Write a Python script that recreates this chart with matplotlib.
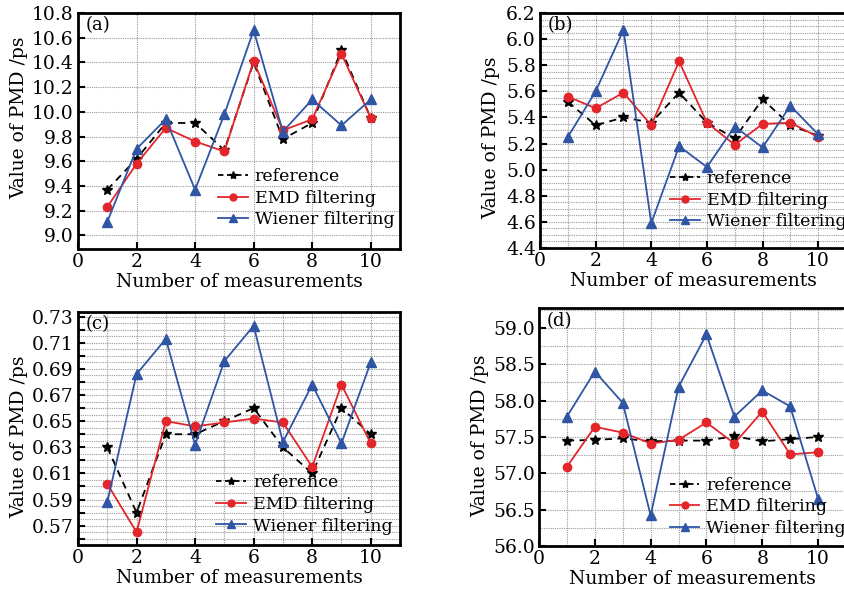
import matplotlib
matplotlib.use("Agg")
import matplotlib.pyplot as plt
from matplotlib.ticker import MultipleLocator
from matplotlib.lines import Line2D
import numpy as np

plt.rcParams['font.family'] = ['DejaVu Serif']
plt.rcParams['mathtext.fontset'] = 'dejavuserif'

x = [1, 2, 3, 4, 5, 6, 7, 8, 9, 10]

ref_a = [9.37, 9.62, 9.91, 9.91, 9.69, 10.40, 9.78, 9.91, 10.50, 9.95]
emd_a = [9.23, 9.58, 9.87, 9.76, 9.68, 10.41, 9.85, 9.94, 10.47, 9.95]
wie_a = [9.11, 9.70, 9.94, 9.37, 9.98, 10.66, 9.84, 10.10, 9.89, 10.10]

ref_b = [5.52, 5.34, 5.40, 5.36, 5.59, 5.36, 5.24, 5.54, 5.34, 5.26]
emd_b = [5.56, 5.47, 5.59, 5.34, 5.83, 5.36, 5.19, 5.35, 5.36, 5.25]
wie_b = [5.25, 5.60, 6.07, 4.59, 5.18, 5.02, 5.33, 5.17, 5.49, 5.27]

ref_c = [0.630, 0.580, 0.640, 0.640, 0.650, 0.660, 0.630, 0.610, 0.660, 0.640]
emd_c = [0.602, 0.565, 0.650, 0.646, 0.649, 0.652, 0.649, 0.615, 0.678, 0.633]
wie_c = [0.588, 0.686, 0.713, 0.632, 0.696, 0.723, 0.634, 0.678, 0.633, 0.695]

ref_d = [57.45, 57.46, 57.48, 57.44, 57.45, 57.45, 57.51, 57.44, 57.47, 57.50]
emd_d = [57.09, 57.64, 57.56, 57.41, 57.46, 57.70, 57.41, 57.85, 57.26, 57.29]
wie_d = [57.78, 58.40, 57.97, 56.42, 58.19, 58.91, 57.78, 58.14, 57.92, 56.65]

yticks_a = ["9.0", "9.2", "9.4", "9.6", "9.8", "10.0", "10.2", "10.4", "10.6", "10.8"]
yticks_b = ["4.4", "4.6", "4.8", "5.0", "5.2", "5.4", "5.6", "5.8", "6.0", "6.2"]
yticks_c = ["0.57", "0.59", "0.61", "0.63", "0.65", "0.67", "0.69", "0.71", "0.73"]
yticks_d = ["56.0", "56.5", "57.0", "57.5", "58.0", "58.5", "59.0"]
xticks = ["0", "2", "4", "6", "8", "10"]

labels = ["reference", "EMD filtering", "Wiener filtering"]
panel_names = ["(a)", "(b)", "(c)", "(d)"]

W, H = 845, 595
fig = plt.figure(figsize=(W / 100, H / 100), dpi=100)

def box(l, t, r, b):
    return [l / W, 1 - b / H, (r - l) / W, (b - t) / H]

RED = "#e3262b"
BLUE = "#2f55a4"

panels = [
    dict(px=(78, 13, 400, 249), data=(ref_a, emd_a, wie_a), ylim=(8.89, 10.8),
         yt=yticks_a, ygrid=0.2, xgrid=2, leg=(0.435, 0.087), ylab=(28, 118), yminor=None),
    dict(px=(540, 13, 846, 248), data=(ref_b, emd_b, wie_b), ylim=(4.4, 6.2),
         yt=yticks_b, ygrid=0.05, xgrid=1, leg=(0.426, 0.075), ylab=(500, 138), yminor=None),
    dict(px=(78, 311.7, 400, 545), data=(ref_c, emd_c, wie_c), ylim=(0.5552, 0.7338),
         yt=yticks_c, ygrid=0.005, xgrid=1, leg=(0.43, 0.045), ylab=(28, 437), yminor=0.01),
    dict(px=(539, 308.3, 846, 546), data=(ref_d, emd_d, wie_d), ylim=(56.0, 59.27),
         yt=yticks_d, ygrid=0.25, xgrid=1, leg=(0.426, 0.038), ylab=(489, 436), yminor=None),
]

for i, p in enumerate(panels):
    l, t, r, b = p["px"]
    ax = fig.add_axes(box(l, t, r, b))
    ref, emd, wie = p["data"]
    ax.plot(x, ref, color="black", linestyle=(0, (4, 3)), linewidth=1.3,
            marker="*", markersize=7, zorder=3)
    ax.plot(x, emd, color=RED, linewidth=1.3, marker="o", markersize=6, zorder=4)
    ax.plot(x, wie, color=BLUE, linewidth=1.3, marker="^", markersize=6.5, zorder=5)
    ax.set_xlim(0, 11)
    lo, hi = p["ylim"]
    ax.set_ylim(lo, hi)

    yt = [float(s) for s in p["yt"]]
    ax.set_yticks(yt)
    ax.set_yticklabels(p["yt"])
    ax.set_xticks([float(s) for s in xticks])
    ax.set_xticklabels(xticks)
    if p["yminor"]:
        ax.yaxis.set_minor_locator(MultipleLocator(p["yminor"]))
    ax.tick_params(axis="both", which="major", direction="in", length=5, width=1.5,
                   labelsize=13.5, pad=3, top=False, right=False)
    ax.tick_params(axis="y", which="minor", direction="in", length=5, width=1.5,
                   left=True, right=False)
    ax.tick_params(axis="x", which="minor", bottom=False, top=False)

    gk = dict(color="#9a9a9a", linestyle=(0, (1, 1)), linewidth=0.8, zorder=0)
    n0 = int(np.ceil(lo / p["ygrid"] - 1e-6))
    n1 = int(np.floor(hi / p["ygrid"] + 1e-6))
    for n in range(n0, n1 + 1):
        v = n * p["ygrid"]
        if lo + 1e-9 < v < hi - 1e-9:
            ax.axhline(v, **gk)
    for v in range(p["xgrid"], 11, p["xgrid"]):
        ax.axvline(v, **gk)

    for s in ax.spines.values():
        s.set_linewidth(2.0)

    ax.set_xlabel("Number of measurements", fontsize=13.5, labelpad=1)
    ax.set_ylabel("Value of PMD /ps", fontsize=13.5)
    ax.yaxis.set_label_coords((p["ylab"][0] - l) / (r - l), (b - p["ylab"][1]) / (b - t))

    ax.text(0.025, 0.985, panel_names[i], transform=ax.transAxes, fontsize=13,
            ha="left", va="top")

    handles = [
        Line2D([], [], color="black", linestyle=(0, (3, 2)), linewidth=1.3, marker="*", markersize=6),
        Line2D([], [], color=RED, linewidth=1.3, marker="o", markersize=5),
        Line2D([], [], color=BLUE, linewidth=1.3, marker="^", markersize=5.5),
    ]
    ax.legend(handles, labels, loc="lower left", bbox_to_anchor=p["leg"], frameon=False,
              fontsize=12.5, handlelength=1.7, handletextpad=0.4, labelspacing=0.27,
              borderpad=0, borderaxespad=0, numpoints=1)

fig.savefig("out.png", dpi=100)
